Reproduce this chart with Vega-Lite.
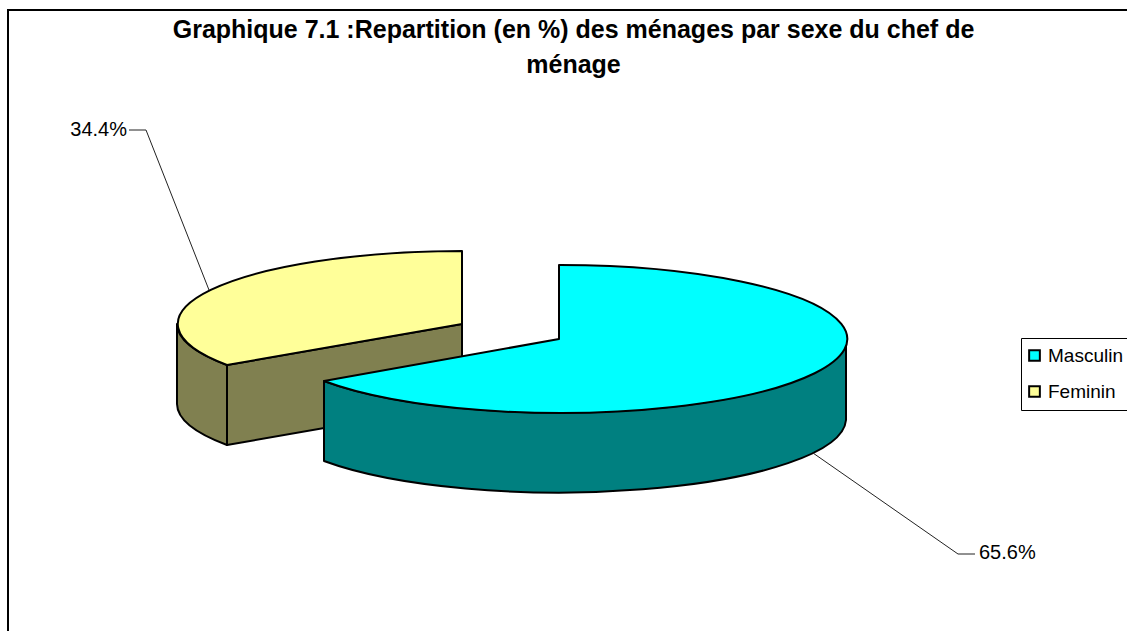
{"$schema":"https://vega.github.io/schema/vega-lite/v6.json","width":1122,"height":624,"autosize":{"type":"none"},"padding":{"left":8,"top":10,"right":0,"bottom":0},"background":"white","view":{"stroke":"black","strokeWidth":2,"fill":"white"},
"title":{"text":["Graphique 7.1 :Repartition (en %) des ménages par sexe du chef de","ménage"],"font":"Liberation Sans","fontSize":25,"fontWeight":"bold","color":"black","anchor":"middle","frame":"group","dx":4.5,"offset":-68,"lineHeight":35},
"data":{"values":[{"sexe":"Masculin","part":0.656},{"sexe":"Feminin","part":0.344}]},
"encoding":{"x":{"field":"sexe","type":"nominal","axis":null,"scale":{"type":"point","domain":["Masculin","Feminin"],"range":[551,454],"padding":0}},"y":{"field":"sexe","type":"nominal","axis":null,"scale":{"type":"point","domain":["Masculin","Feminin"],"range":[329,314],"padding":0}}},
"layer":[
{"transform":[{"filter":"datum.sexe==='Feminin'"}],"mark":{"type":"point","filled":true,"opacity":1,"size":4,"fill":"#808050","stroke":"black","strokeWidth":2,"strokeJoin":"round","shape":"M -285 0 A 285 73 0 0 0 -235 41 L -235 121 A 285 73 0 0 1 -285 80 Z"}},
{"transform":[{"filter":"datum.sexe==='Feminin'"}],"mark":{"type":"point","filled":true,"opacity":1,"size":4,"fill":"#808050","stroke":"black","strokeWidth":2,"strokeJoin":"round","shape":"M -235 41 L 0 0 L 0 80 L -235 121 Z"}},
{"transform":[{"filter":"datum.sexe==='Masculin'"}],"mark":{"type":"point","filled":true,"opacity":1,"size":4,"fill":"#008080","stroke":"black","strokeWidth":2,"strokeJoin":"round","shape":"M -235 42 A 287 74 0 0 0 287 0 L 287 81 A 287 74 0 0 1 -235 122 Z"}},
{"transform":[{"filter":"datum.sexe==='Feminin'"}],"mark":{"type":"point","filled":false,"opacity":1,"size":4,"stroke":"#222222","strokeWidth":1,"shape":"M -253 -34 L -316 -194 L -333 -194"}},
{"transform":[{"filter":"datum.sexe==='Masculin'"}],"mark":{"type":"point","filled":false,"opacity":1,"size":4,"stroke":"#222222","strokeWidth":1,"shape":"M 254 114 L 399 215 L 416 215"}},
{"transform":[{"filter":"datum.sexe==='Feminin'"}],"mark":{"type":"point","filled":true,"opacity":1,"size":4,"stroke":"black","strokeWidth":2,"strokeJoin":"round","shape":"M 0 -73 A 285 73 0 0 0 -235 41 L 0 0 Z"},"encoding":{"color":{"field":"sexe","type":"nominal","scale":{"domain":["Masculin","Feminin"],"range":["#00FFFF","#FFFF99"]},"legend":{"title":null,"orient":"none","legendX":1013,"legendY":328,"symbolType":"square","symbolSize":115,"symbolOffset":-4,"symbolStrokeColor":"black","symbolStrokeWidth":2,"symbolOpacity":1,"labelFont":"Liberation Sans","labelFontSize":19,"labelColor":"black","labelOffset":4,"rowPadding":16,"strokeColor":"black","fillColor":"white","padding":8}}}},
{"transform":[{"filter":"datum.sexe==='Masculin'"}],"mark":{"type":"point","filled":true,"opacity":1,"size":4,"stroke":"black","strokeWidth":2,"strokeJoin":"round","shape":"M 0 -74 A 287 74 0 1 1 -235 42 L 0 0 Z"},"encoding":{"color":{"field":"sexe","type":"nominal"}}},
{"transform":[{"filter":"datum.sexe==='Feminin'"}],"mark":{"type":"text","align":"right","baseline":"middle","dx":-335,"dy":-194,"font":"Liberation Sans","fontSize":20,"fill":"black"},"encoding":{"text":{"field":"part","type":"quantitative","format":".1%"}}},
{"transform":[{"filter":"datum.sexe==='Masculin'"}],"mark":{"type":"text","align":"left","baseline":"middle","dx":420,"dy":214,"font":"Liberation Sans","fontSize":20,"fill":"black"},"encoding":{"text":{"field":"part","type":"quantitative","format":".1%"}}}
]}
